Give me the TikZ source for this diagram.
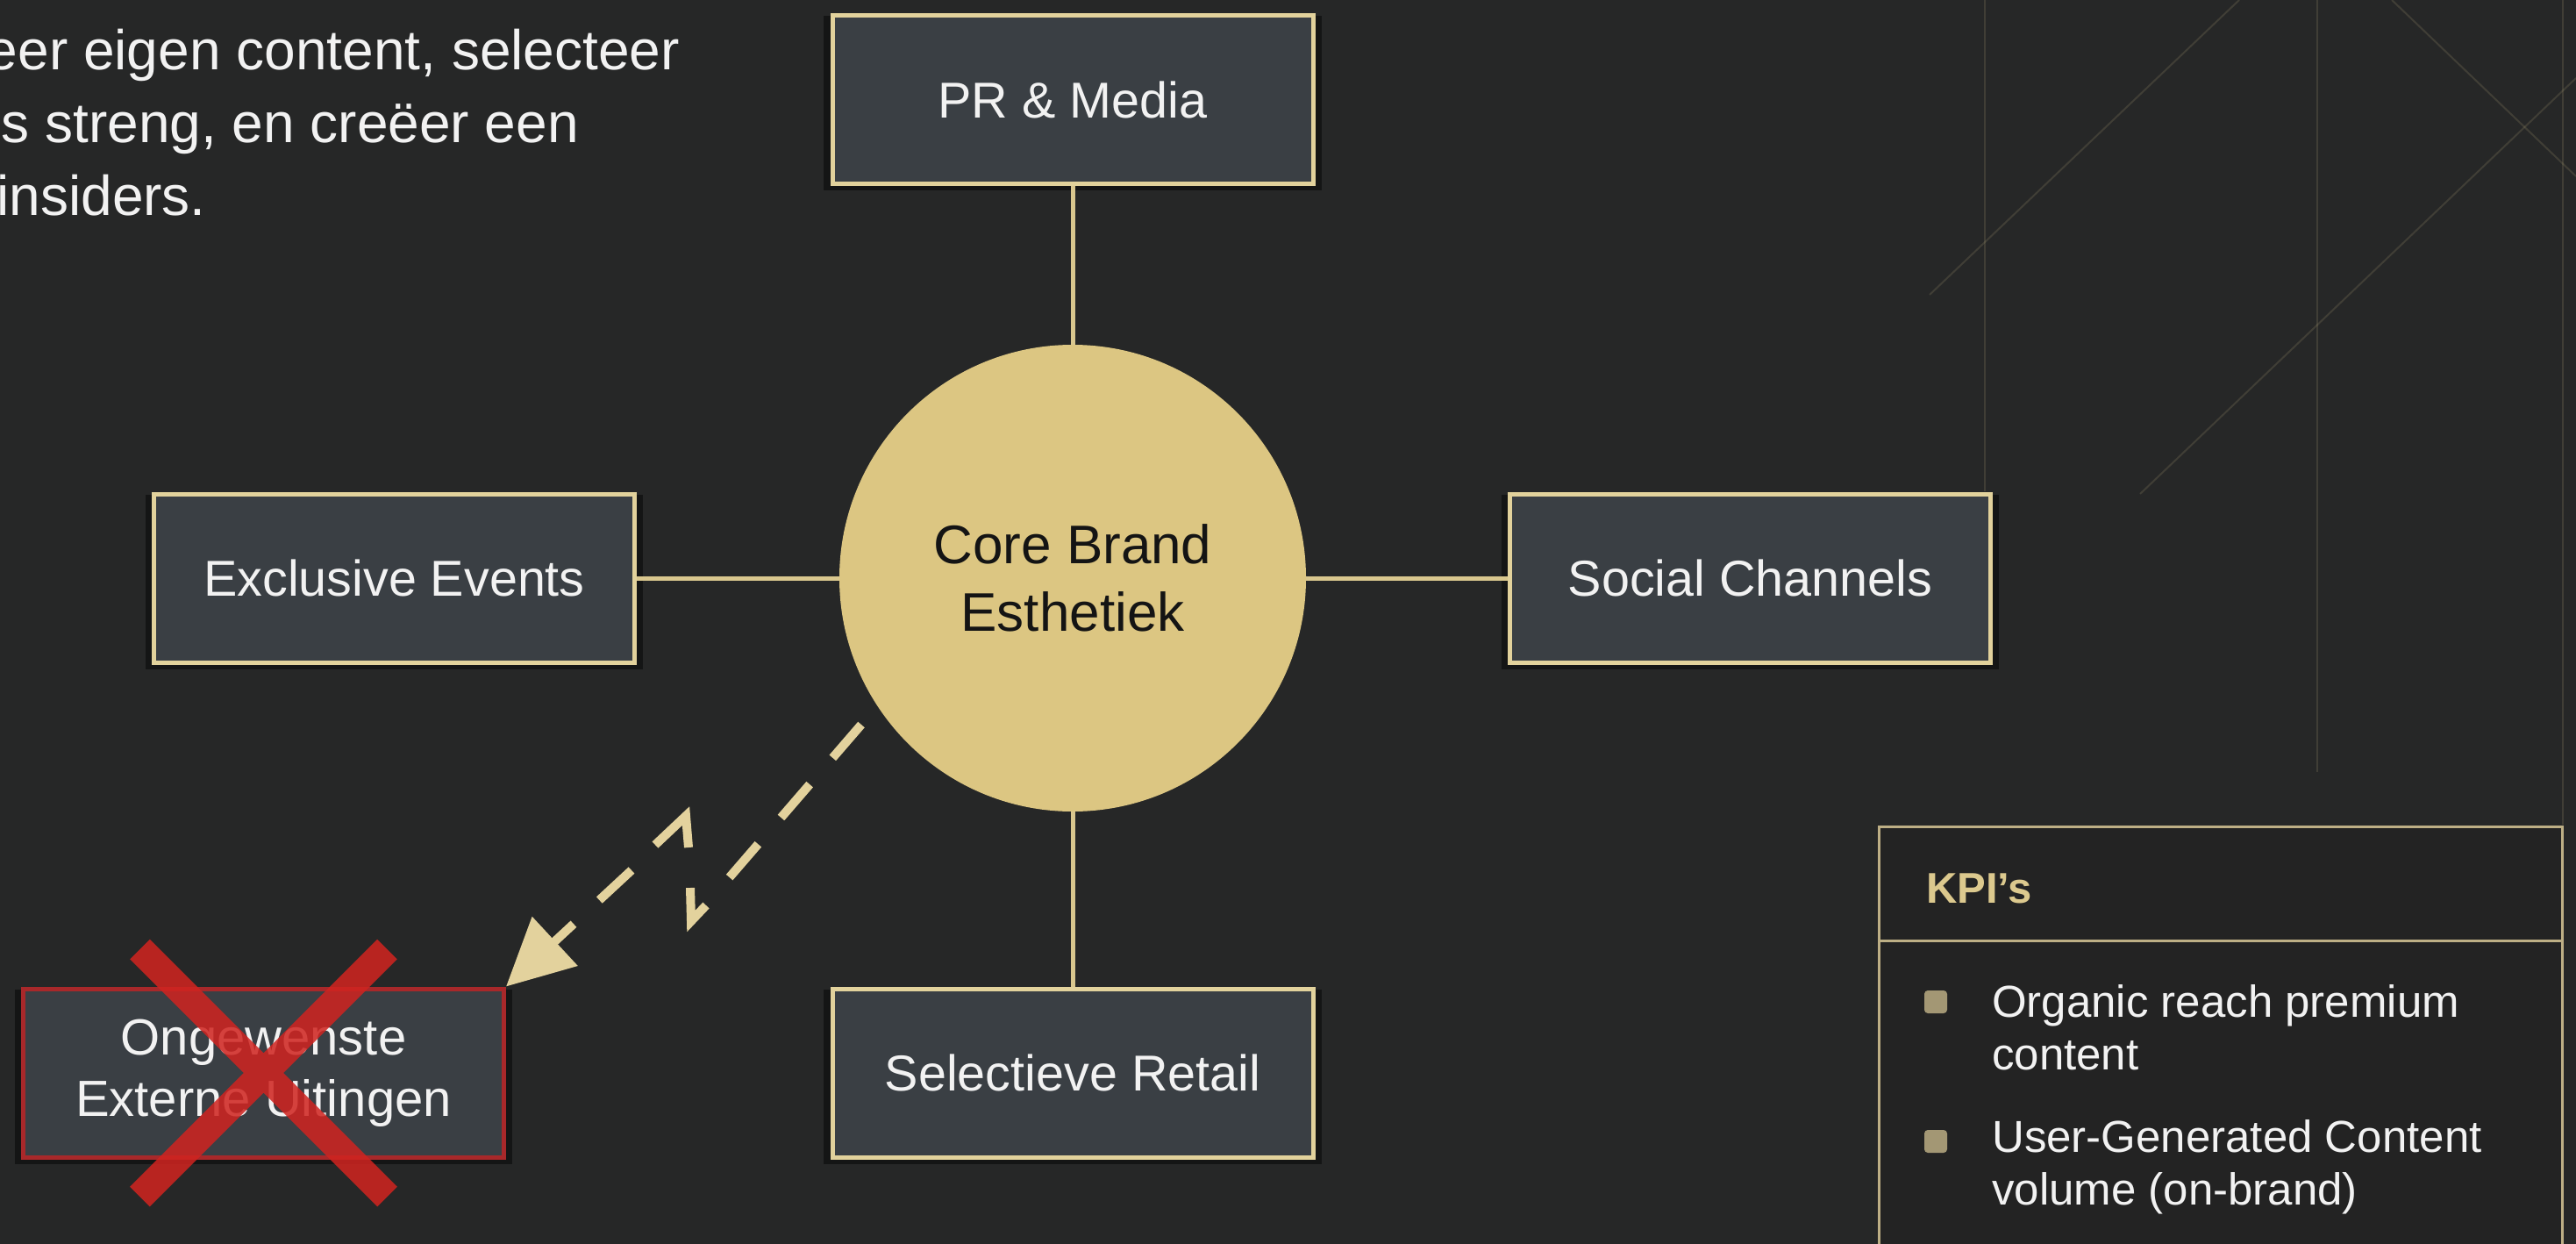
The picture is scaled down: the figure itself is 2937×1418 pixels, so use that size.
\documentclass[tikz,border=0pt]{standalone}
\usepackage{fontspec}
\setmainfont{Liberation Sans}
\usetikzlibrary{arrows.meta,shadows,calc}
\definecolor{bg}{HTML}{262727}
\definecolor{boxfill}{HTML}{3A3F44}
\definecolor{gold}{HTML}{E2D29C}
\definecolor{goldline}{HTML}{D9C78E}
\definecolor{dashgold}{HTML}{E3D29D}
\definecolor{corefill}{HTML}{DCC682}
\definecolor{redx}{HTML}{D02420}
\definecolor{redborder}{HTML}{A8282A}
\definecolor{kpiborder}{HTML}{BDAF85}
\definecolor{kpifill}{HTML}{232323}
\definecolor{kpigold}{HTML}{DCC98E}
\definecolor{bulletc}{HTML}{A39774}
\definecolor{txt}{HTML}{F2F2F2}
\newcommand{\setfs}[2]{\fontsize{#1pt}{#2pt}\selectfont}
\begin{document}
\begin{tikzpicture}[x=1pt,y=-1pt,
  tbox/.style={draw=gold, line width=5pt, fill=boxfill, minimum width=548pt, minimum height=192pt,
    inner sep=0pt, text=txt, font=\setfs{57.5}{70}, align=center,
    drop shadow={shadow xshift=0pt, shadow yshift=-4pt, shadow scale=1.035, fill=black, opacity=.45}},
  conn/.style={draw=goldline, line width=5pt},
  dashc/.style={draw=dashgold, line width=10pt, dash pattern=on 50pt off 40pt},
  zig/.style={draw=dashgold, line width=10pt, line join=miter},
  faint/.style={draw=goldline, line width=2pt, opacity=.15},
  toptext/.style={anchor=base east, inner sep=0pt, text=txt, font=\setfs{64}{86}},
  kpitext/.style={anchor=base west, inner sep=0pt, text=txt, font=\setfs{51}{62}},
  bulletsq/.style={fill=bulletc, minimum size=26pt, inner sep=0pt, rounded corners=4pt}
]
\useasboundingbox (0,0) rectangle (2937,1418);
\fill[bg] (0,0) rectangle (2937,1418);
\clip (0,0) rectangle (2937,1418);

% faint background lines
\draw[faint] (2263,0) -- (2263,560);
\draw[faint] (2642,0) -- (2642,880);
\draw[faint] (2922,0) -- (2922,940);
\draw[faint] (2553,0) -- (2200,336);
\draw[faint] (2727,0) -- (2937,201);
\draw[faint] (2937,89) -- (2440,563);

% top-left text
\node[toptext] (t1) at (775,80) {eer eigen content, selecteer};
\node[toptext] (t2) at (660,163) {s streng, en creëer een};
\node[toptext] (t3) at (235,245) {insiders.};

% nodes
\node[circle, fill=corefill, minimum size=532pt, inner sep=0pt, text=black!92,
  font=\setfs{62}{77}, align=center] (core) at (1223,659) {Core Brand\\Esthetiek};
\node[tbox] (pr) at (1223,113.5) {PR \& Media};
\node[tbox] (ex) at (449.5,659) {Exclusive Events};
\node[tbox] (so) at (1995.5,659) {Social Channels};
\node[tbox] (re) at (1223,1223) {Selectieve Retail};
\node[tbox, draw=redborder, font=\setfs{58}{70}] (un) at (300.5,1223) {Ongewenste\\Externe Uitingen};

% connectors
\draw[conn] (pr) -- (core);
\draw[conn] (ex) -- (core);
\draw[conn] (so) -- (core);
\draw[conn] (re) -- (core);

% red cross
\draw[redx, line width=32pt, opacity=.86]
  ($(un.center)+(-141,-141)$) -- ($(un.center)+(141,141)$)
  ($(un.center)+(141,-141)$) -- ($(un.center)+(-141,141)$);

% broken dashed arrow
\coordinate (d1) at (982,826);
\coordinate (d2) at (830,1002);
\coordinate (d3) at (720,992);
\draw[dashc] (d1) -- (d2);
\draw[dashc, -{Triangle[length=76pt,width=74pt]}] (d3) -- (un.north east);
\coordinate (z1) at (747,963);
\coordinate (z2) at (782,930);
\coordinate (z3) at (785,966);
\coordinate (z4) at (787,1012);
\coordinate (z5) at (788,1050);
\coordinate (z6) at (805,1032);
\draw[zig] (z1) -- (z2) -- (z3);
\draw[zig] (z4) -- (z5) -- (z6);

% KPI panel
\node[draw=kpiborder, line width=3pt, fill=kpifill, minimum width=779pt, minimum height=520pt,
  inner sep=0pt, anchor=north west] (kpi) at (2141,941) {};
\coordinate (kdl) at (2141,1072);
\coordinate (kdr) at (2920,1072);
\draw[kpiborder, line width=3pt] (kdl) -- (kdr);
\node[anchor=base west, inner sep=0pt, text=kpigold, font=\bfseries\setfs{49}{59}] (kt) at (2196,1029) {KPI’s};
\node[bulletsq] (b1) at (2207,1142) {};
\node[bulletsq] (b2) at (2207,1301) {};
\node[kpitext] (k1) at (2271,1159) {Organic reach premium};
\node[kpitext] (k2) at (2271,1219) {content};
\node[kpitext] (k3) at (2271,1313) {User-Generated Content};
\node[kpitext] (k4) at (2271,1373) {volume (on-brand)};
\end{tikzpicture}
\end{document}
